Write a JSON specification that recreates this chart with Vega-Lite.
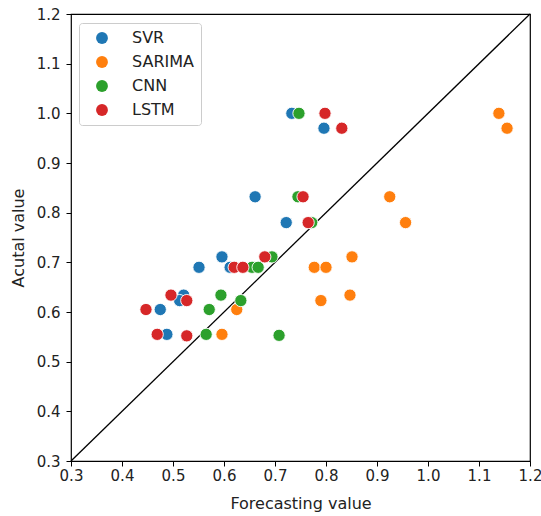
{
  "$schema": "https://vega.github.io/schema/vega-lite/v6.json",
  "width": 459,
  "height": 447,
  "autosize": {"type": "none"},
  "padding": {"left": 71, "top": 14, "right": 11, "bottom": 55},
  "background": "white",
  "config": {
    "font": "DejaVu Sans",
    "view": {"stroke": "black", "strokeWidth": 1.2},
    "axis": {
      "grid": false,
      "domain": false,
      "tickColor": "black",
      "tickSize": 5,
      "tickWidth": 1,
      "labelFontSize": 15,
      "labelColor": "#222222",
      "titleFontSize": 16,
      "titleFontWeight": "normal",
      "titleColor": "#222222",
      "labelFlush": false
    }
  },
  "datasets": {
    "pts": [
      {"model": "SVR", "forecast": 0.733, "actual": 1.0},
      {"model": "SVR", "forecast": 0.796, "actual": 0.97},
      {"model": "SVR", "forecast": 0.661, "actual": 0.832},
      {"model": "SVR", "forecast": 0.722, "actual": 0.78},
      {"model": "SVR", "forecast": 0.596, "actual": 0.711},
      {"model": "SVR", "forecast": 0.551, "actual": 0.69},
      {"model": "SVR", "forecast": 0.612, "actual": 0.69},
      {"model": "SVR", "forecast": 0.521, "actual": 0.634},
      {"model": "SVR", "forecast": 0.513, "actual": 0.623},
      {"model": "SVR", "forecast": 0.475, "actual": 0.605},
      {"model": "SVR", "forecast": 0.488, "actual": 0.555},
      {"model": "SARIMA", "forecast": 1.139, "actual": 1.0},
      {"model": "SARIMA", "forecast": 1.155, "actual": 0.97},
      {"model": "SARIMA", "forecast": 0.925, "actual": 0.832},
      {"model": "SARIMA", "forecast": 0.956, "actual": 0.78},
      {"model": "SARIMA", "forecast": 0.851, "actual": 0.711},
      {"model": "SARIMA", "forecast": 0.777, "actual": 0.69},
      {"model": "SARIMA", "forecast": 0.8, "actual": 0.69},
      {"model": "SARIMA", "forecast": 0.847, "actual": 0.634},
      {"model": "SARIMA", "forecast": 0.79, "actual": 0.623},
      {"model": "SARIMA", "forecast": 0.625, "actual": 0.605},
      {"model": "SARIMA", "forecast": 0.596, "actual": 0.555},
      {"model": "CNN", "forecast": 0.747, "actual": 1.0},
      {"model": "CNN", "forecast": 0.745, "actual": 0.832},
      {"model": "CNN", "forecast": 0.772, "actual": 0.78},
      {"model": "CNN", "forecast": 0.694, "actual": 0.711},
      {"model": "CNN", "forecast": 0.655, "actual": 0.69},
      {"model": "CNN", "forecast": 0.667, "actual": 0.69},
      {"model": "CNN", "forecast": 0.594, "actual": 0.634},
      {"model": "CNN", "forecast": 0.633, "actual": 0.623},
      {"model": "CNN", "forecast": 0.571, "actual": 0.605},
      {"model": "CNN", "forecast": 0.565, "actual": 0.555},
      {"model": "CNN", "forecast": 0.708, "actual": 0.553},
      {"model": "LSTM", "forecast": 0.798, "actual": 1.0},
      {"model": "LSTM", "forecast": 0.831, "actual": 0.97},
      {"model": "LSTM", "forecast": 0.755, "actual": 0.832},
      {"model": "LSTM", "forecast": 0.765, "actual": 0.78},
      {"model": "LSTM", "forecast": 0.68, "actual": 0.711},
      {"model": "LSTM", "forecast": 0.62, "actual": 0.69},
      {"model": "LSTM", "forecast": 0.637, "actual": 0.69},
      {"model": "LSTM", "forecast": 0.496, "actual": 0.634},
      {"model": "LSTM", "forecast": 0.527, "actual": 0.623},
      {"model": "LSTM", "forecast": 0.447, "actual": 0.605},
      {"model": "LSTM", "forecast": 0.469, "actual": 0.555},
      {"model": "LSTM", "forecast": 0.527, "actual": 0.552}
    ],
    "diag": [{"x": 0.3, "y": 0.3, "x2": 1.2, "y2": 1.2}]
  },
  "layer": [
    {
      "data": {"name": "diag"},
      "mark": {"type": "rule", "color": "black", "strokeWidth": 1.3},
      "encoding": {
        "x": {"field": "x", "type": "quantitative", "scale": {"domain": [0.3, 1.2], "nice": false, "zero": false}},
        "y": {"field": "y", "type": "quantitative", "scale": {"domain": [0.3, 1.2], "nice": false, "zero": false}},
        "x2": {"field": "x2"},
        "y2": {"field": "y2"}
      }
    },
    {
      "data": {"name": "pts"},
      "mark": {"type": "point", "shape": "circle", "filled": true, "size": 150, "opacity": 1, "stroke": "white", "strokeWidth": 0.9},
      "encoding": {
        "x": {
          "field": "forecast", "type": "quantitative",
          "scale": {"domain": [0.3, 1.2], "nice": false, "zero": false},
          "axis": {"title": "Forecasting value", "values": [0.3, 0.4, 0.5, 0.6, 0.7, 0.8, 0.9, 1.0, 1.1, 1.2], "format": ".1f", "labelPadding": 2, "titlePadding": 12}
        },
        "y": {
          "field": "actual", "type": "quantitative",
          "scale": {"domain": [0.3, 1.2], "nice": false, "zero": false},
          "axis": {"title": "Acutal value", "values": [0.3, 0.4, 0.5, 0.6, 0.7, 0.8, 0.9, 1.0, 1.1, 1.2], "format": ".1f", "labelPadding": 6, "titlePadding": 10}
        },
        "color": {
          "field": "model", "type": "nominal",
          "scale": {"domain": ["SVR", "SARIMA", "CNN", "LSTM"], "range": ["#1f77b4", "#ff7f0e", "#2ca02c", "#d62728"]},
          "legend": {
            "title": null,
            "orient": "none",
            "legendX": 8,
            "legendY": 9,
            "symbolType": "circle",
            "symbolSize": 140,
            "symbolStrokeWidth": 0,
            "symbolOffset": 8,
            "labelFontSize": 16,
            "labelColor": "#222222",
            "labelOffset": 22,
            "rowPadding": 8,
            "padding": 7,
            "fillColor": "white",
            "strokeColor": "#cccccc",
            "cornerRadius": 3,
            "offset": 0
          }
        }
      }
    }
  ]
}
